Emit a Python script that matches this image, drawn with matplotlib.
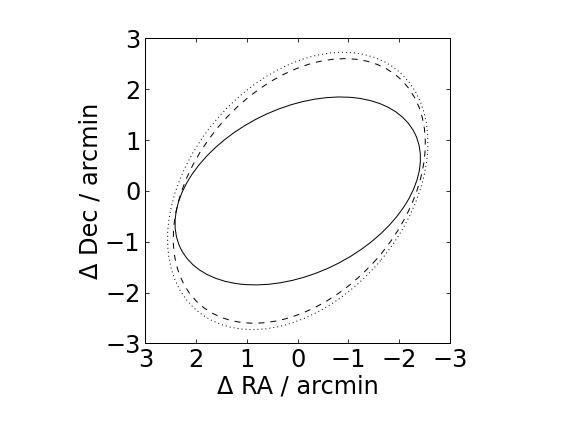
import matplotlib
matplotlib.use("Agg")
import matplotlib.pyplot as plt
from matplotlib.patches import Ellipse

# ellipse parameters (arcmin, degrees)
styles = ["-", (0, (6, 6)), (0, (1, 3))]
centre_ra = [0.0, -0.03, 0.0]
centre_dec = [0.0, 0.0, 0.0]
semi_major = [2.57, 2.97, 3.08]
semi_minor = [1.63, 2.03, 2.13]
angle_deg = [-26.0, -48.7, -50.0]

plt.rcParams['font.family'] = ['DejaVu Sans']
plt.rcParams['font.size'] = 24
plt.rcParams['xtick.direction'] = 'in'
plt.rcParams['ytick.direction'] = 'in'

fig = plt.figure(figsize=(8, 6), dpi=72)
ax = fig.add_axes([0.2526, 0.205, 0.5286, 0.706])

for ls, cx, cy, a, b, ang in zip(styles, centre_ra, centre_dec,
                                 semi_major, semi_minor, angle_deg):
    ax.add_patch(Ellipse((cx, cy), 2 * a, 2 * b, angle=ang, fill=False,
                         edgecolor='black', linestyle=ls, linewidth=1.0))

ax.set_xlim(3, -3)
ax.set_ylim(-3, 3)
ax.set_xticks([3, 2, 1, 0, -1, -2, -3])
ax.set_yticks([-3, -2, -1, 0, 1, 2, 3])
ax.tick_params(which='both', top=True, right=True, length=4, width=0.8,
               pad=5, labelsize=24)
for s in ax.spines.values():
    s.set_linewidth(1.0)

ax.set_xlabel('Δ RA / arcmin', fontsize=24, labelpad=2)
ax.set_ylabel('Δ Dec / arcmin', fontsize=24, labelpad=2)

fig.savefig('out.png', dpi=72)
